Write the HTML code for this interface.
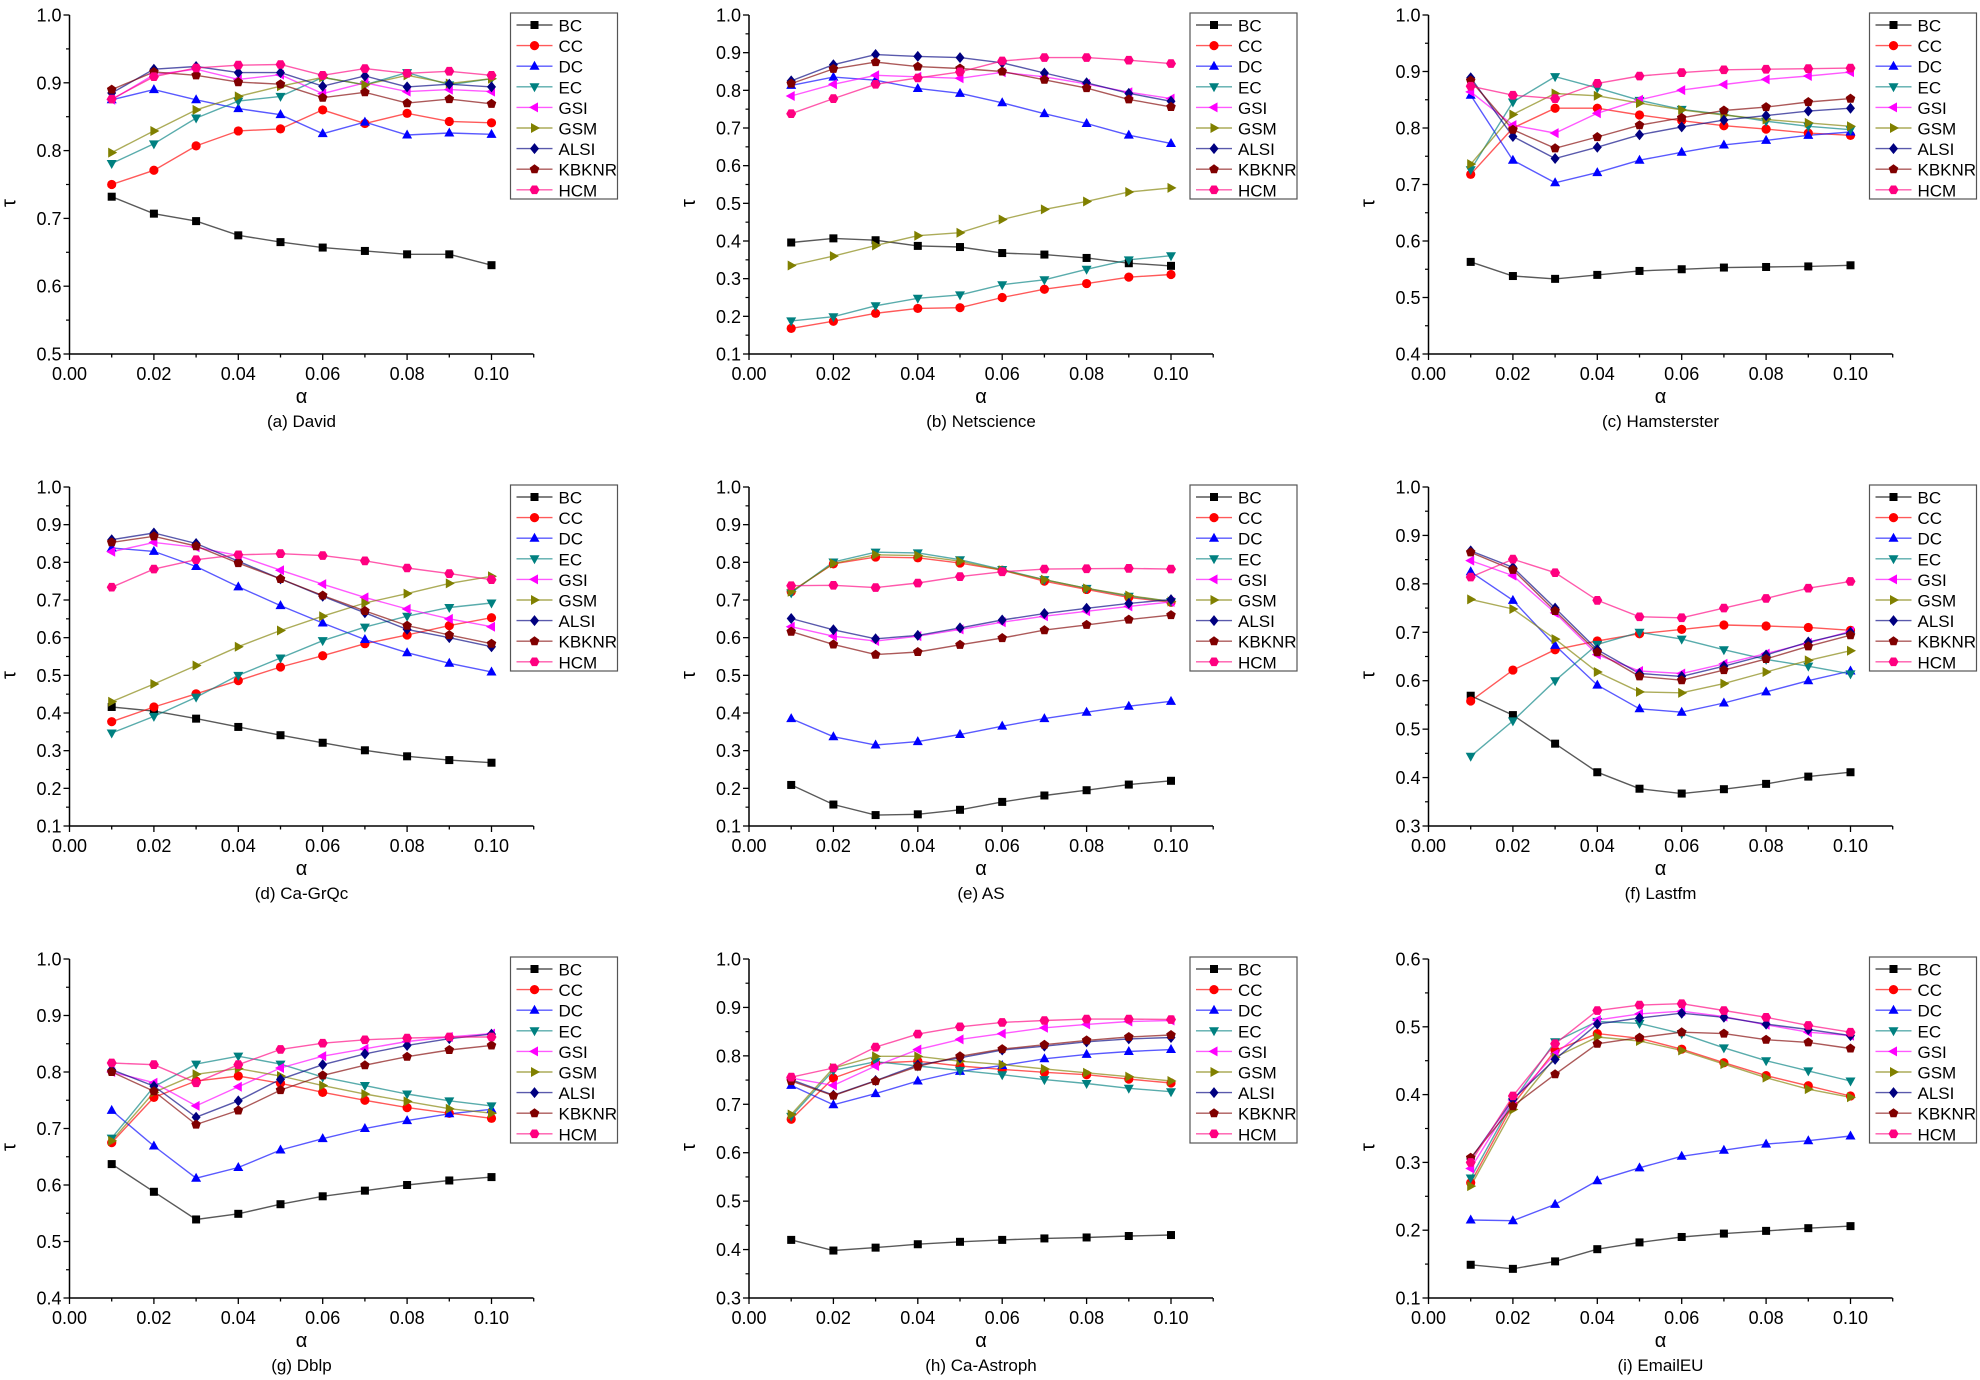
<!DOCTYPE html>
<html><head><meta charset="utf-8"><style>
html,body{margin:0;padding:0;background:#fff;}
svg{display:block;font-family:"Liberation Sans",Arial,sans-serif;}
</style></head><body>
<svg id="s" width="1980" height="1380" xmlns="http://www.w3.org/2000/svg"></svg>
<script>
const S=document.getElementById('s');
const names=['BC','CC','DC','EC','GSI','GSM','ALSI','KBKNR','HCM'];
const cols=['#000000','#ff0000','#0000ff','#008080','#ff00ff','#808000','#000080','#800000','#ff0080'];
const P=[
{c:'(a) David',lo:0.5,hi:1.0,d:[
[.732,.707,.696,.675,.665,.657,.652,.647,.647,.631],
[.750,.771,.807,.829,.832,.860,.840,.855,.843,.841],
[.875,.890,.875,.862,.853,.825,.842,.823,.826,.824],
[.781,.810,.848,.873,.880,.908,.897,.915,.897,.906],
[.875,.912,.920,.905,.912,.884,.900,.887,.890,.887],
[.797,.829,.860,.880,.895,.908,.897,.911,.899,.906],
[.885,.920,.924,.915,.915,.895,.910,.894,.898,.894],
[.890,.916,.911,.901,.898,.878,.886,.870,.876,.869],
[.876,.909,.922,.926,.927,.911,.921,.914,.917,.911]]},
{c:'(b) Netscience',lo:0.1,hi:1.0,d:[
[.396,.407,.402,.387,.384,.368,.364,.355,.341,.334],
[.168,.187,.208,.221,.223,.250,.272,.287,.304,.311],
[.813,.835,.827,.805,.792,.767,.738,.712,.681,.659],
[.188,.199,.228,.248,.257,.284,.297,.325,.350,.361],
[.785,.816,.840,.836,.832,.848,.836,.817,.795,.778],
[.335,.360,.388,.414,.422,.457,.484,.505,.530,.541],
[.825,.868,.895,.890,.887,.873,.846,.820,.792,.771],
[.818,.857,.875,.863,.858,.850,.828,.806,.776,.756],
[.738,.778,.816,.833,.849,.878,.887,.887,.880,.871]]},
{c:'(c) Hamsterster',lo:0.4,hi:1.0,d:[
[.563,.538,.533,.540,.547,.550,.553,.554,.555,.557],
[.718,.800,.835,.835,.823,.813,.804,.798,.791,.787],
[.858,.743,.703,.721,.743,.757,.770,.778,.787,.793],
[.726,.846,.891,.871,.849,.833,.824,.812,.803,.797],
[.864,.805,.791,.826,.850,.867,.877,.886,.892,.899],
[.736,.824,.861,.857,.844,.832,.823,.815,.809,.803],
[.889,.785,.746,.766,.788,.802,.814,.822,.830,.835],
[.884,.797,.764,.784,.805,.818,.831,.837,.846,.852],
[.874,.858,.852,.879,.892,.898,.903,.904,.905,.906]]},
{c:'(d) Ca-GrQc',lo:0.1,hi:1.0,d:[
[.416,.405,.385,.363,.341,.321,.301,.285,.275,.268],
[.377,.416,.451,.486,.522,.552,.584,.607,.632,.653],
[.838,.829,.789,.735,.685,.639,.595,.560,.532,.509],
[.347,.391,.442,.500,.546,.592,.628,.657,.680,.692],
[.828,.853,.840,.818,.779,.742,.707,.676,.650,.629],
[.430,.477,.526,.576,.619,.657,.692,.717,.744,.763],
[.860,.878,.850,.803,.756,.710,.666,.622,.600,.576],
[.853,.869,.843,.798,.756,.712,.671,.632,.607,.584],
[.734,.782,.807,.820,.823,.818,.804,.785,.770,.754]]},
{c:'(e) AS',lo:0.1,hi:1.0,d:[
[.209,.157,.129,.131,.143,.164,.181,.195,.210,.220],
[.722,.796,.814,.812,.798,.779,.750,.728,.707,.694],
[.385,.337,.315,.324,.343,.365,.385,.402,.418,.431],
[.719,.801,.827,.825,.807,.781,.754,.731,.710,.696],
[.629,.604,.591,.604,.622,.641,.657,.670,.683,.695],
[.722,.797,.820,.818,.803,.779,.754,.731,.712,.696],
[.651,.621,.597,.606,.626,.647,.664,.678,.691,.701],
[.616,.582,.555,.562,.581,.599,.620,.634,.648,.660],
[.738,.739,.733,.745,.762,.775,.782,.783,.784,.782]]},
{c:'(f) Lastfm',lo:0.3,hi:1.0,d:[
[.569,.529,.470,.411,.377,.367,.376,.387,.402,.411],
[.558,.622,.664,.682,.697,.706,.715,.713,.710,.704],
[.825,.766,.673,.591,.542,.535,.554,.577,.600,.620],
[.444,.517,.600,.675,.700,.686,.664,.644,.630,.614],
[.848,.817,.740,.654,.620,.615,.635,.656,.678,.702],
[.768,.748,.686,.618,.577,.575,.594,.618,.642,.662],
[.868,.834,.750,.664,.615,.609,.630,.653,.680,.700],
[.865,.829,.744,.659,.609,.601,.622,.645,.671,.694],
[.814,.851,.823,.766,.732,.730,.750,.770,.791,.805]]},
{c:'(g) Dblp',lo:0.4,hi:1.0,d:[
[.637,.588,.539,.549,.566,.580,.590,.600,.608,.614],
[.675,.755,.784,.793,.780,.764,.750,.737,.727,.718],
[.732,.669,.612,.631,.662,.682,.700,.714,.726,.734],
[.683,.774,.814,.828,.814,.791,.776,.761,.749,.740],
[.800,.781,.740,.774,.807,.828,.841,.854,.862,.868],
[.678,.764,.796,.806,.793,.776,.761,.748,.735,.727],
[.804,.775,.720,.749,.787,.813,.832,.847,.859,.867],
[.800,.766,.707,.732,.768,.794,.812,.827,.839,.847],
[.816,.813,.781,.813,.840,.851,.857,.860,.862,.862]]},
{c:'(h) Ca-Astroph',lo:0.3,hi:1.0,d:[
[.420,.398,.404,.411,.416,.420,.423,.425,.428,.430],
[.669,.754,.785,.789,.779,.772,.766,.761,.752,.744],
[.739,.699,.722,.748,.768,.780,.794,.803,.809,.813],
[.675,.770,.788,.779,.770,.761,.751,.743,.733,.726],
[.754,.739,.779,.813,.834,.846,.858,.865,.871,.873],
[.679,.775,.799,.799,.789,.782,.773,.765,.757,.748],
[.751,.719,.749,.781,.796,.812,.820,.829,.835,.838],
[.748,.718,.748,.778,.799,.814,.823,.832,.839,.843],
[.756,.775,.818,.845,.860,.869,.873,.876,.876,.875]]},
{c:'(i) EmailEU',lo:0.1,hi:0.6,d:[
[.149,.143,.154,.172,.182,.190,.195,.199,.203,.206],
[.270,.385,.465,.490,.483,.467,.447,.428,.413,.398],
[.215,.214,.238,.273,.292,.309,.318,.327,.332,.339],
[.277,.390,.478,.508,.505,.490,.469,.450,.435,.420],
[.291,.392,.460,.510,.519,.523,.515,.503,.492,.487],
[.265,.378,.455,.485,.479,.465,.445,.425,.408,.396],
[.305,.393,.452,.504,.513,.520,.514,.504,.496,.487],
[.307,.383,.430,.475,.484,.492,.490,.481,.477,.468],
[.300,.398,.475,.524,.532,.534,.524,.514,.502,.492]]}
];
const X0=[69.5,749,1428.5],Y0=[15,487,959],H=339,XS=4220;
let o='';
function mk(k,x,y){const c=cols[k];const r=4.6;
 switch(k){
 case 0:return `<rect x="${x-4}" y="${y-4}" width="8" height="8" fill="${c}"/>`;
 case 1:return `<circle cx="${x}" cy="${y}" r="${r}" fill="${c}"/>`;
 case 2:return `<polygon points="${x},${y-5.5} ${x+5},${y+3.5} ${x-5},${y+3.5}" fill="${c}"/>`;
 case 3:return `<polygon points="${x},${y+5.5} ${x+5},${y-3.5} ${x-5},${y-3.5}" fill="${c}"/>`;
 case 4:return `<polygon points="${x-5.5},${y} ${x+3.5},${y-5} ${x+3.5},${y+5}" fill="${c}"/>`;
 case 5:return `<polygon points="${x+5.5},${y} ${x-3.5},${y-5} ${x-3.5},${y+5}" fill="${c}"/>`;
 case 6:return `<polygon points="${x},${y-5.5} ${x+4.5},${y} ${x},${y+5.5} ${x-4.5},${y}" fill="${c}"/>`;
 case 7:{let p=[];for(let i=0;i<5;i++){const a=-Math.PI/2+i*2*Math.PI/5;p.push((x+5*Math.cos(a)).toFixed(1)+','+(y+5*Math.sin(a)).toFixed(1));}return `<polygon points="${p.join(' ')}" fill="${c}"/>`;}
 case 8:{let p=[];for(let i=0;i<6;i++){const a=i*Math.PI/3;p.push((x+5*Math.cos(a)).toFixed(1)+','+(y+5*Math.sin(a)).toFixed(1));}return `<polygon points="${p.join(' ')}" fill="${c}"/>`;}
 }}
P.forEach((p,i)=>{
 const ax=X0[i%3],top=Y0[Math.floor(i/3)],bot=top+H;
 const yv=v=>bot-(v-p.lo)/(p.hi-p.lo)*H;
 const xv=a=>ax+a*XS;
 o+=`<line x1="${ax}" y1="${top}" x2="${ax}" y2="${bot}" stroke="#000" stroke-width="1.5"/>`;
 o+=`<line x1="${ax}" y1="${bot}" x2="${ax+464}" y2="${bot}" stroke="#000" stroke-width="1.5"/>`;
 const n=Math.round((p.hi-p.lo)*10);
 for(let j=0;j<=n;j++){const y=yv(p.lo+j*0.1);
  o+=`<line x1="${ax-6}" y1="${y}" x2="${ax}" y2="${y}" stroke="#000" stroke-width="1.3"/>`;
  o+=`<text x="${ax-8}" y="${y+6.5}" font-size="18" text-anchor="end">${(p.lo+j*0.1).toFixed(1)}</text>`;
  if(j<n){const ym=yv(p.lo+j*0.1+0.05);o+=`<line x1="${ax-3.5}" y1="${ym}" x2="${ax}" y2="${ym}" stroke="#000" stroke-width="1.2"/>`;}
 }
 for(let j=0;j<=11;j++){const x=xv(j*0.01);const maj=j%2==0;
  o+=`<line x1="${x}" y1="${bot}" x2="${x}" y2="${bot+(maj?6:3.5)}" stroke="#000" stroke-width="1.3"/>`;
  if(maj)o+=`<text x="${x}" y="${bot+26}" font-size="18" text-anchor="middle">${(j*0.01).toFixed(2)}</text>`;
 }
 o+=`<text x="${ax+232}" y="${bot+49}" font-size="20" text-anchor="middle">α</text>`;
 o+=`<text x="${ax+232}" y="${bot+73}" font-size="17" text-anchor="middle">${p.c}</text>`;
 o+=`<text transform="translate(${ax-54},${top+188}) rotate(-90)" font-size="20" text-anchor="middle">τ</text>`;
 p.d.forEach((s,k)=>{
  const pts=s.map((v,j)=>xv((j+1)*0.01).toFixed(1)+','+yv(v).toFixed(1)).join(' ');
  o+=`<polyline points="${pts}" fill="none" stroke="${cols[k]}" stroke-opacity="0.65" stroke-width="1.4"/>`;
 });
 p.d.forEach((s,k)=>{s.forEach((v,j)=>{o+=mk(k,xv((j+1)*0.01),yv(v));});});
 const lx=ax+441,ly=top-2;
 o+=`<rect x="${lx}" y="${ly}" width="107" height="186" fill="#fff" stroke="#555" stroke-width="1.2"/>`;
 names.forEach((nm,k)=>{const y=top+10+k*20.6;
  o+=`<line x1="${lx+6}" y1="${y}" x2="${lx+42}" y2="${y}" stroke="${cols[k]}" stroke-opacity="0.65" stroke-width="1.4"/>`;
  o+=mk(k,lx+24,y);
  o+=`<text x="${lx+48}" y="${y+6.5}" font-size="17">${nm}</text>`;
 });
});
S.innerHTML=o;
</script>
</body></html>
